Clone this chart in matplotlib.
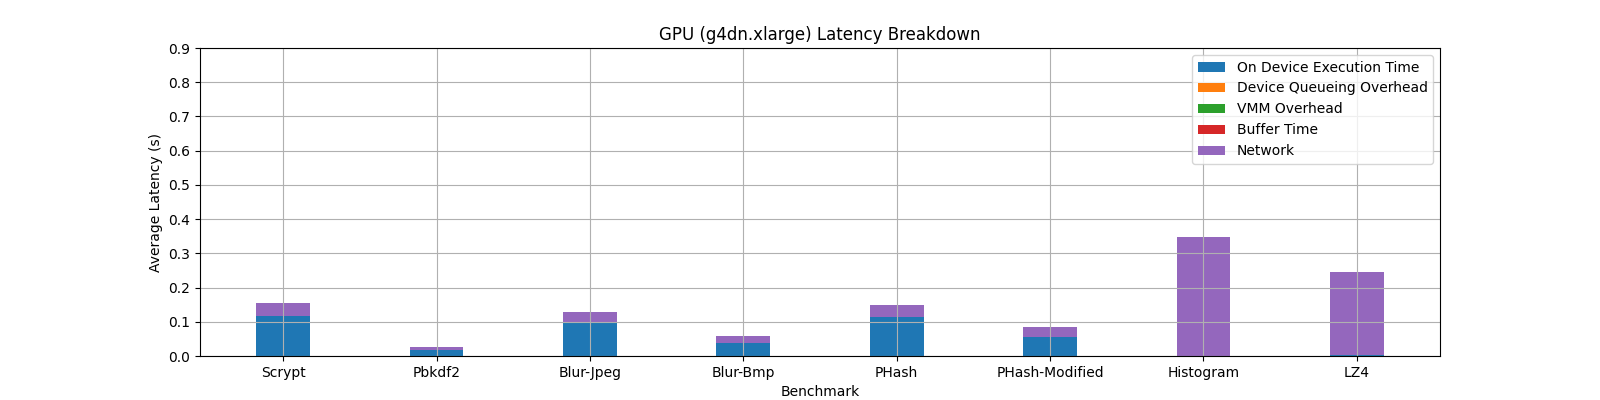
import matplotlib
matplotlib.use("Agg")
import matplotlib.pyplot as plt
import numpy as np

benchmarks = ["Scrypt", "Pbkdf2", "Blur-Jpeg", "Blur-Bmp", "PHash", "PHash-Modified", "Histogram", "LZ4"]
on_device = [0.118, 0.0175, 0.0955, 0.039, 0.114, 0.0555, 0.0005, 0.003]
queueing = [0.0, 0.0, 0.0, 0.0, 0.0, 0.0, 0.0, 0.0]
vmm = [0.0, 0.0, 0.0, 0.0, 0.0, 0.0, 0.0, 0.0]
buffer_time = [0.0, 0.0, 0.0, 0.0, 0.0, 0.0, 0.0, 0.0]
network = [0.037, 0.0085, 0.033, 0.0195, 0.035, 0.029, 0.3475, 0.2425]

series = [
    ("On Device Execution Time", on_device),
    ("Device Queueing Overhead", queueing),
    ("VMM Overhead", vmm),
    ("Buffer Time", buffer_time),
    ("Network", network),
]

fig, ax = plt.subplots(figsize=(16, 4), dpi=100)
x = np.arange(len(benchmarks))
bottom = np.zeros(len(benchmarks))
for label, vals in series:
    vals = np.array(vals)
    ax.bar(x, vals, 0.35, bottom=bottom, label=label)
    bottom += vals

ax.set_xticks(x)
ax.set_xticklabels(benchmarks)
ax.set_ylim(0, 0.9)
ax.set_yticks(np.arange(0, 0.91, 0.1))
ax.set_xlabel("Benchmark")
ax.set_ylabel("Average Latency (s)")
ax.set_title("GPU (g4dn.xlarge) Latency Breakdown")
ax.grid(True)
ax.legend(loc="upper right")
fig.savefig("out.png")
